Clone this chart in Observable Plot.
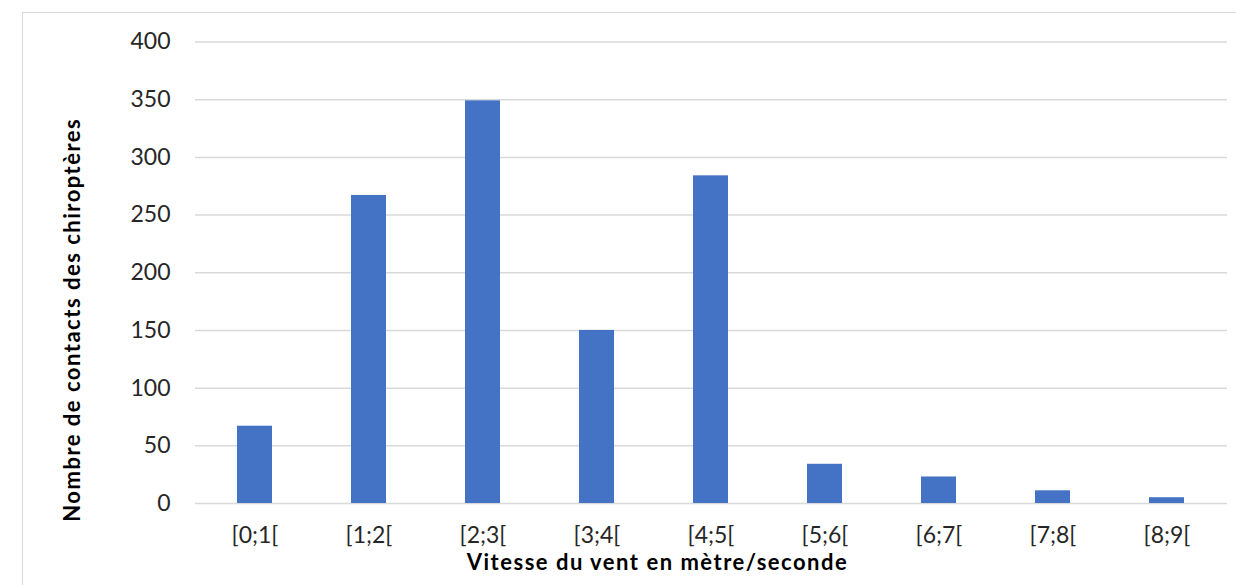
<!DOCTYPE html>
<html lang="fr">
<head>
<meta charset="utf-8">
<script src="https://cdn.jsdelivr.net/npm/d3@7"></script>
<script src="https://cdn.jsdelivr.net/npm/@observablehq/plot@0.6"></script>
<style>
  html, body { margin: 0; padding: 0; background: #fff; overflow: hidden; }
  #wrap { position: relative; width: 1236px; height: 585px; overflow: hidden; }
  #border { position: absolute; left: 22px; top: 12px; width: 1400px; height: 800px;
            border: 1.3px solid #d9d9d9; box-sizing: border-box; pointer-events: none; }
  #chart { position: absolute; left: 0; top: 0; }
  /* axis titles are slightly wider-set than the default bold face */
  #chart g[aria-label="text"] text { letter-spacing: 1.5px; }
</style>
</head>
<body>
<div id="wrap">
  <div id="chart"></div>
  <div id="border"></div>
</div>
<script>
// Wind speed classes (m/s) and bat contact counts per class
const categories = ["[0;1[", "[1;2[", "[2;3[", "[3;4[", "[4;5[", "[5;6[", "[6;7[", "[7;8[", "[8;9["];
const contacts = [67, 267, 349, 150, 284, 34, 23, 11, 5];
const yTicks = [0, 50, 100, 150, 200, 250, 300, 350, 400];
const xTitle = "Vitesse du vent en mètre/seconde";
const yTitle = "Nombre de contacts des chiroptères";

const data = categories.map((c, i) => ({cat: c, value: contacts[i]}));

const font = "Lato, 'Open Sans', sans-serif";
const textColor = "#262626";

const chart = Plot.plot({
  width: 1236,
  height: 585,
  marginLeft: 195,
  marginRight: 9,
  marginTop: 41.5,
  marginBottom: 82,
  style: {fontFamily: font, background: "transparent", color: textColor},
  x: {domain: categories, paddingInner: 0.69, paddingOuter: 0.345},
  y: {domain: [0, 400]},
  marks: [
    Plot.gridY(yTicks, {stroke: "#d9d9d9", strokeOpacity: 1, strokeWidth: 1.5}),
    Plot.barY(data, {x: "cat", y: "value", fill: "#4472c4"}),
    Plot.axisY({ticks: yTicks, tickSize: 0, tickPadding: 25, fontSize: 23, fill: textColor, label: null}),
    Plot.axisX({tickSize: 0, tickPadding: 23, fontSize: 23, fill: textColor, label: null}),
    Plot.text([xTitle], {frameAnchor: "bottom", text: d => d, dx: -54, dy: 59,
      fontSize: 22, fontWeight: "bold", fill: "#000", lineAnchor: "middle", textAnchor: "middle"}),
    Plot.text([yTitle], {frameAnchor: "left", text: d => d, dx: -123, dy: 47, rotate: -90,
      fontSize: 22, fontWeight: "bold", fill: "#000", lineAnchor: "middle", textAnchor: "middle"})
  ]
});
document.getElementById("chart").appendChild(chart);
</script>
</body>
</html>
